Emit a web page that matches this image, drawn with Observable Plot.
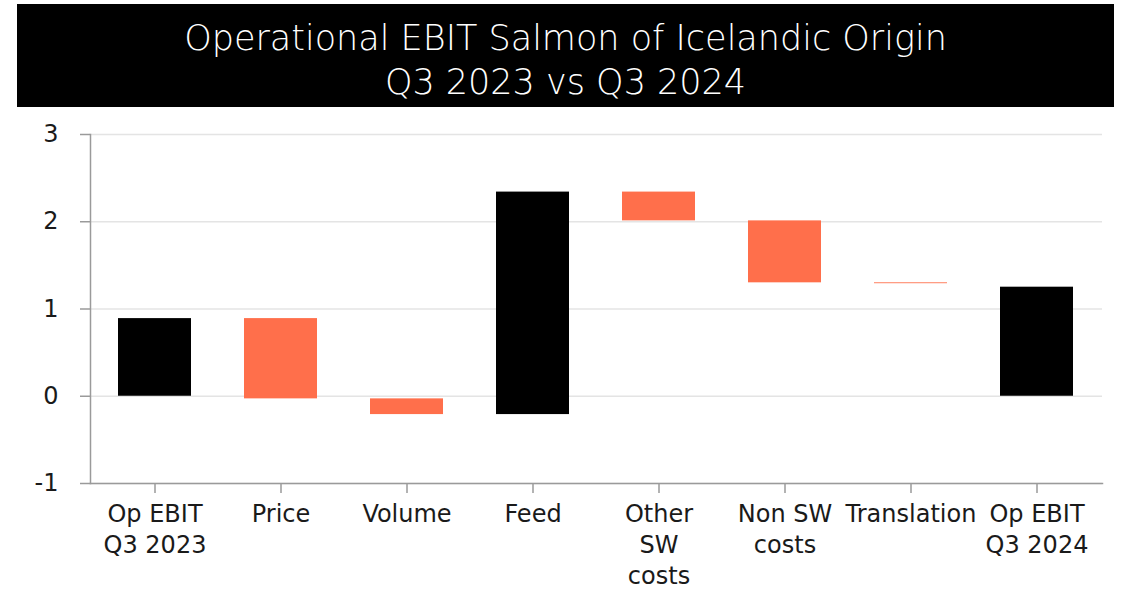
<!DOCTYPE html>
<html>
<head>
<meta charset="utf-8">
<script src="https://cdn.jsdelivr.net/npm/d3@7"></script>
<script src="https://cdn.jsdelivr.net/npm/@observablehq/plot@0.6"></script>
<style>
  html, body { margin: 0; padding: 0; background: #fff; }
  body { width: 1122px; height: 590px; position: relative; overflow: hidden; font-family: "Century Gothic", "DejaVu Sans", sans-serif; }
  #title { position: absolute; left: 17px; top: 4px; width: 1097px; height: 103px; background: #000; color: #fff;
           text-align: center; font-size: 35px; font-weight: 300; line-height: 44px; box-sizing: border-box; padding-top: 12px; }
  #chart { position: absolute; left: 0; top: 110px; }
</style>
</head>
<body>
<div id="title">Operational EBIT Salmon of Icelandic Origin<br>Q3 2023 vs Q3 2024</div>
<div id="chart"></div>
<script>
// Waterfall data (EUR m)
const categories = ["Op EBIT Q3 2023", "Price", "Volume", "Feed", "Other SW costs", "Non SW costs", "Translation", "Op EBIT Q3 2024"];
const tickLabels = ["Op EBIT\nQ3 2023", "Price", "Volume", "Feed", "Other\nSW\ncosts", "Non SW\ncosts", "Translation", "Op EBIT\nQ3 2024"];
const barStart = [0, 0.89, -0.03, -0.21, 2.34, 2.01, 1.30, 0];
const barEnd   = [0.89, -0.03, -0.21, 2.34, 2.01, 1.30, 1.29, 1.25];
const barKind  = ["total", "decrease", "decrease", "increase", "decrease", "decrease", "decrease", "total"];
const yTicks = [-1, 0, 1, 2, 3];

const kindColor = {total: "#000000", increase: "#000000", decrease: "#FF6F4B"};
const data = categories.map((c, i) => ({cat: c, start: barStart[i], end: barEnd[i], kind: barKind[i]}));
const labelOf = new Map(categories.map((c, i) => [c, tickLabels[i]]));

const chart = Plot.plot({
  width: 1122,
  height: 480,
  marginLeft: 90,
  marginRight: 20,
  marginTop: 24,
  marginBottom: 107,
  style: {fontFamily: "'Century Gothic', 'DejaVu Sans', sans-serif", fontSize: "24px", color: "#1a1a1a", background: "#fff"},
  x: {domain: categories, paddingInner: 0.42, paddingOuter: 0.21, label: null},
  y: {domain: [-1, 3], label: null},
  marks: [
    Plot.gridY(yTicks, {stroke: "#e4e4e4", strokeOpacity: 1, strokeWidth: 1.5}),
    Plot.barY(data, {x: "cat", y1: "start", y2: "end", fill: d => kindColor[d.kind], inset: 0}),
    Plot.frame({anchor: "left", stroke: "#9a9a9a", strokeWidth: 1.5}),
    Plot.frame({anchor: "bottom", stroke: "#9a9a9a", strokeWidth: 1.5}),
    Plot.axisY(yTicks, {tickSize: 10, tickPadding: 22, stroke: "#9a9a9a", strokeWidth: 1.5, fontSize: 24, fill: "#1a1a1a", tickFormat: d => String(d)}),
    Plot.axisX({tickSize: 10, tickPadding: 6, stroke: "#9a9a9a", strokeWidth: 1.5, fontSize: 24, lineHeight: 1.3, fill: "#1a1a1a", tickFormat: d => labelOf.get(d)})
  ]
});
document.getElementById("chart").appendChild(chart);
</script>
</body>
</html>
